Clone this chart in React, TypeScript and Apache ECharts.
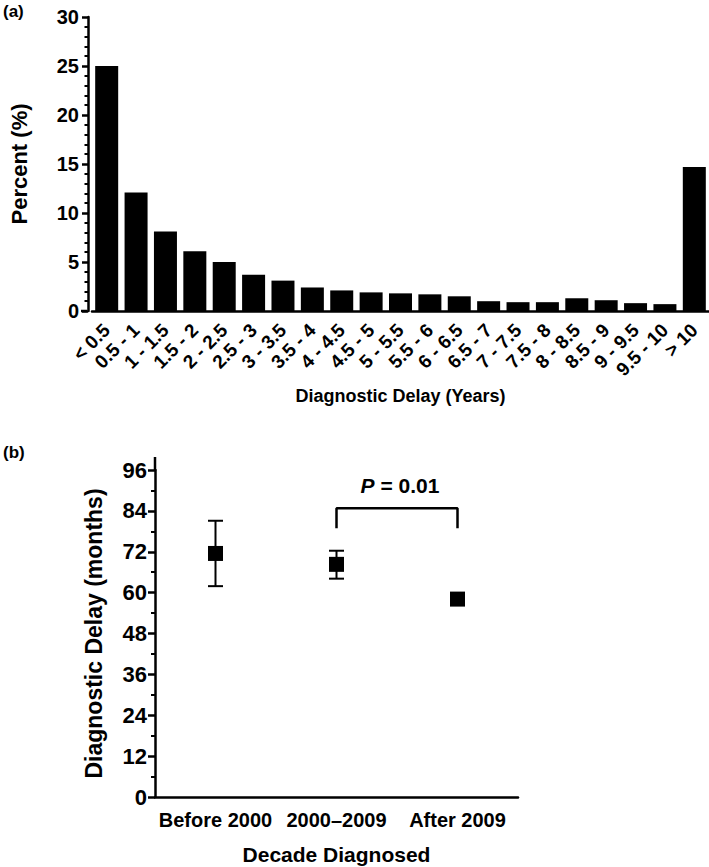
import React, { useEffect, useRef } from 'react';
import * as echarts from 'echarts';

const FONT = '"Liberation Sans", Arial, Helvetica, sans-serif';

// Panel (a)
const delayBins = ['< 0.5', '0.5 - 1', '1 - 1.5', '1.5 - 2', '2 - 2.5', '2.5 - 3', '3 - 3.5', '3.5 - 4', '4 - 4.5', '4.5 - 5', '5 - 5.5', '5.5 - 6', '6 - 6.5', '6.5 - 7', '7 - 7.5', '7.5 - 8', '8 - 8.5', '8.5 - 9', '9 - 9.5', '9.5 - 10', '> 10'];
const percentValues = [25.0, 12.1, 8.1, 6.1, 5.0, 3.7, 3.1, 2.4, 2.1, 1.9, 1.8, 1.7, 1.5, 1.0, 0.9, 0.9, 1.3, 1.1, 0.8, 0.7, 14.7];

// Panel (b)
const decades = ['Before 2000', '2000\u20132009', 'After 2009'];
const meanDelay = [71.5, 68.3, 58.1];
const errLow = [61.9, 64.1, 57.4];
const errHigh = [81.1, 72.3, 58.8];
const bracketFrom = 1;
const bracketTo = 2;
const bracketTop = 84.8;
const bracketFoot = 78.9;
const pText = '0.01';

export default function App() {
  const ref = useRef<HTMLDivElement>(null);
  useEffect(() => {
    const chart = echarts.init(ref.current!, null, { renderer: 'svg' });
    const axisLineStyle = { color: '#000', width: 2.5 };
    const lbl = (size: number, margin: number) => ({
      fontFamily: FONT, fontWeight: 'bold', color: '#000', fontSize: size, margin,
    });
    const nameStyle = (size: number) => ({ fontFamily: FONT, fontWeight: 'bold', color: '#000', fontSize: size });

    chart.setOption({
      animation: false,
      textStyle: { fontFamily: FONT, fontWeight: 'bold', color: '#000' },
      grid: [
        { left: 86, top: 17, width: 623, height: 294 },
        { left: 155, top: 470, width: 363, height: 327 },
      ],
      xAxis: [
        {
          gridIndex: 0, type: 'category', data: delayBins,
          axisLine: { lineStyle: axisLineStyle },
          axisTick: { alignWithLabel: true, length: 6, lineStyle: { width: 2.5, color: '#000' } },
          axisLabel: { ...lbl(19, 16), interval: 0, rotate: 45 },
          name: 'Diagnostic Delay (Years)', nameLocation: 'middle', nameGap: 76,
          nameTextStyle: nameStyle(18),
        },
        {
          gridIndex: 1, type: 'category', data: decades,
          axisLine: { lineStyle: axisLineStyle },
          axisTick: { alignWithLabel: true, length: 7, lineStyle: { width: 2.5, color: '#000' } },
          axisLabel: { ...lbl(20, 13), interval: 0 },
          name: 'Decade Diagnosed', nameLocation: 'middle', nameGap: 47,
          nameTextStyle: nameStyle(21),
        },
      ],
      yAxis: [
        {
          gridIndex: 0, type: 'value', min: 0, max: 30, interval: 5, offset: 4,
          splitLine: { show: false },
          axisLine: { show: true, lineStyle: axisLineStyle },
          axisTick: { show: true, length: 6, lineStyle: { width: 2.5, color: '#000' } },
          minorTick: { show: true, splitNumber: 5, length: 3.5, lineStyle: { width: 2, color: '#000' } },
          axisLabel: lbl(20, 9),
          name: 'Percent (%)', nameLocation: 'middle', nameGap: 58,
          nameTextStyle: nameStyle(22),
        },
        {
          gridIndex: 1, type: 'value', min: 0, max: 96, interval: 12,
          splitLine: { show: false },
          axisLine: { show: true, lineStyle: axisLineStyle },
          axisTick: { show: true, length: 7, lineStyle: { width: 2.5, color: '#000' } },
          minorTick: { show: true, splitNumber: 2, length: 4, lineStyle: { width: 2, color: '#000' } },
          axisLabel: lbl(22, 8),
          name: 'Diagnostic Delay (months)', nameLocation: 'middle', nameGap: 50,
          nameTextStyle: nameStyle(23),
        },
      ],
      series: [
        {
          type: 'bar', xAxisIndex: 0, yAxisIndex: 0, data: percentValues,
          barWidth: 23, itemStyle: { color: '#000' },
        },
        {
          type: 'custom', xAxisIndex: 1, yAxisIndex: 1,
          data: decades.map((_, i) => [i, errLow[i], errHigh[i]]),
          encode: { x: 0, y: [1, 2] },
          renderItem: (params: any, api: any) => {
            const i = api.value(0);
            const lo = api.coord([i, api.value(1)]);
            const hi = api.coord([i, api.value(2)]);
            const hw = 7.5;
            const style = { stroke: '#000', lineWidth: 2 };
            return {
              type: 'group',
              children: [
                { type: 'line', shape: { x1: lo[0], y1: lo[1], x2: hi[0], y2: hi[1] }, style },
                { type: 'line', shape: { x1: hi[0] - hw, y1: hi[1], x2: hi[0] + hw, y2: hi[1] }, style },
                { type: 'line', shape: { x1: lo[0] - hw, y1: lo[1], x2: lo[0] + hw, y2: lo[1] }, style },
              ],
            };
          },
        },
        {
          type: 'scatter', xAxisIndex: 1, yAxisIndex: 1, data: meanDelay,
          symbol: 'rect', symbolSize: 15, itemStyle: { color: '#000', opacity: 1 }, z: 5,
        },
        {
          type: 'line', xAxisIndex: 1, yAxisIndex: 1,
          data: [[bracketFrom, bracketFoot], [bracketFrom, bracketTop], [bracketTo, bracketTop], [bracketTo, bracketFoot]],
          symbol: 'none', lineStyle: { color: '#000', width: 2.5 },
        },
      ],
      graphic: [
        { type: 'text', left: 3, top: 3, style: { text: '(a)', font: `bold 17px ${FONT}`, fill: '#000' } },
        { type: 'text', left: 3, top: 444, style: { text: '(b)', font: `bold 17px ${FONT}`, fill: '#000' } },
        {
          type: 'text', x: 400, y: 485,
          style: {
            text: `{i|P}{n| = ${pText}}`, align: 'center', verticalAlign: 'middle',
            rich: {
              i: { font: `italic bold 21px ${FONT}`, fill: '#000' },
              n: { font: `bold 21px ${FONT}`, fill: '#000' },
            },
          },
        },
        { type: 'line', shape: { x1: 155, y1: 457, x2: 155, y2: 471 }, style: { stroke: '#000', lineWidth: 2.5 } },
        { type: 'line', shape: { x1: 81, y1: 311, x2: 87, y2: 311 }, style: { stroke: '#000', lineWidth: 2.5 } },
      ],
    });
    return () => chart.dispose();
  }, []);
  return <div ref={ref} style={{ position: 'absolute', left: 0, top: 0, width: 709, height: 867, background: '#fff' }} />;
}
